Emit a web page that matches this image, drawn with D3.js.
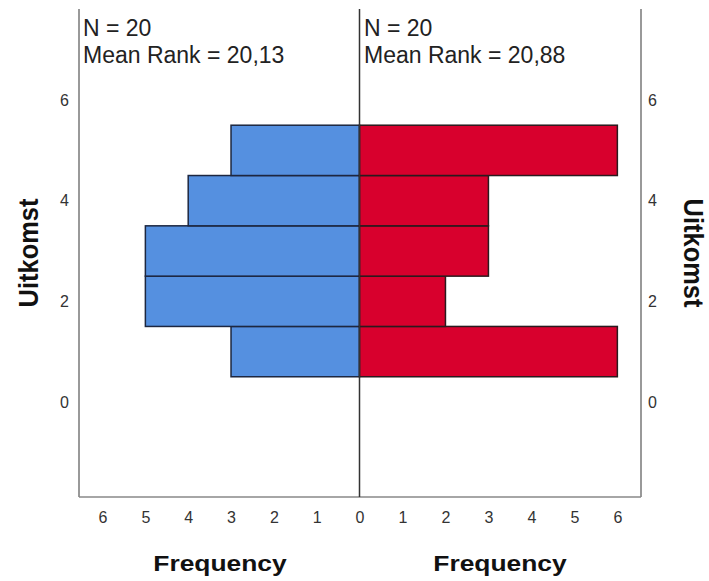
<!DOCTYPE html>
<html><head><meta charset="utf-8">
<script src="https://cdn.jsdelivr.net/npm/d3@7"></script>
<style>html,body{margin:0;padding:0;background:#fff;}svg{display:block;}</style>
</head><body>
<svg id="chart" width="709" height="581"></svg>
<script>
const categories = [1, 2, 3, 4, 5];
const leftCounts = [3, 5, 5, 4, 3];
const rightCounts = [6, 2, 3, 3, 6];
const yTicks = [0, 2, 4, 6];
const xTicks = [0, 1, 2, 3, 4, 5, 6];
const leftStats = ["N = 20", "Mean Rank = 20,13"];
const rightStats = ["N = 20", "Mean Rank = 20,88"];
const yTitle = "Uitkomst";
const xTitle = "Frequency";

const svg = d3.select("#chart");
const pTop = 9, pBottom = 497, pLeft = 79, pMid = 359.5, pRight = 641;
const font = "Arial, 'Liberation Sans', sans-serif";

const y = d3.scaleLinear().domain([-1.89, 7.81]).range([pBottom, pTop]);
const xR = d3.scaleLinear().domain([0, 6.55]).range([pMid, pRight]);
const xL = d3.scaleLinear().domain([0, 6.55]).range([pMid, pLeft]);

// bars
svg.append("g").selectAll("rect").data(categories).join("rect")
  .attr("x", (d, i) => xL(leftCounts[i]))
  .attr("y", d => y(d + 0.5))
  .attr("width", (d, i) => xL(0) - xL(leftCounts[i]))
  .attr("height", d => y(d - 0.5) - y(d + 0.5))
  .attr("fill", "#5590e0").attr("stroke", "#1d2740").attr("stroke-width", 1.5);
svg.append("g").selectAll("rect").data(categories).join("rect")
  .attr("x", xR(0))
  .attr("y", d => y(d + 0.5))
  .attr("width", (d, i) => xR(rightCounts[i]) - xR(0))
  .attr("height", d => y(d - 0.5) - y(d + 0.5))
  .attr("fill", "#d8002d").attr("stroke", "#2a1a1e").attr("stroke-width", 1.5);

// frame
svg.append("line").attr("x1", pLeft).attr("x2", pLeft).attr("y1", pTop).attr("y2", pBottom).attr("stroke", "#777").attr("stroke-width", 1.5);
svg.append("line").attr("x1", pRight).attr("x2", pRight).attr("y1", pTop).attr("y2", pBottom).attr("stroke", "#777").attr("stroke-width", 1.5);
svg.append("line").attr("x1", pLeft).attr("x2", pRight).attr("y1", pBottom).attr("y2", pBottom).attr("stroke", "#888").attr("stroke-width", 1.5);
svg.append("line").attr("x1", pMid).attr("x2", pMid).attr("y1", pTop).attr("y2", pBottom).attr("stroke", "#333").attr("stroke-width", 1.5);

// y axes
const ayL = d3.axisLeft(y).tickValues(yTicks).tickSize(0).tickPadding(10).tickFormat(d3.format("d"));
const gyL = svg.append("g").attr("transform", `translate(${pLeft},0)`).call(ayL);
const ayR = d3.axisRight(y).tickValues(yTicks).tickSize(0).tickPadding(7).tickFormat(d3.format("d"));
const gyR = svg.append("g").attr("transform", `translate(${pRight},0)`).call(ayR);

// x axes
const axL = d3.axisBottom(xL).tickValues(xTicks).tickSize(0).tickPadding(15).tickFormat(d3.format("d"));
const gxL = svg.append("g").attr("transform", `translate(0,${pBottom})`).call(axL);
const axR = d3.axisBottom(xR).tickValues(xTicks.slice(1)).tickSize(0).tickPadding(15).tickFormat(d3.format("d"));
const gxR = svg.append("g").attr("transform", `translate(0,${pBottom})`).call(axR);

[gyL, gyR, gxL, gxR].forEach(g => {
  g.select(".domain").remove();
  g.selectAll("text").attr("font-family", font).attr("font-size", 16).attr("fill", "#333");
});

// stats text
leftStats.forEach((t, i) => svg.append("text").attr("x", 83).attr("y", 36 + i * 27)
  .attr("font-family", font).attr("font-size", 23).attr("fill", "#222").text(t));
rightStats.forEach((t, i) => svg.append("text").attr("x", 364).attr("y", 36 + i * 27)
  .attr("font-family", font).attr("font-size", 23).attr("fill", "#222").text(t));

// titles
[220, 500].forEach(cx => svg.append("text")
  .attr("transform", `translate(${cx},571) scale(1.2,1)`)
  .attr("text-anchor", "middle").attr("font-family", font).attr("font-weight", "bold")
  .attr("font-size", 22).attr("fill", "#111").text(xTitle));
svg.append("text").attr("transform", "translate(38,253) scale(1.12,1) rotate(-90)")
  .attr("text-anchor", "middle").attr("font-family", font).attr("font-weight", "bold")
  .attr("font-size", 25.5).attr("fill", "#111").text(yTitle);
svg.append("text").attr("transform", "translate(684,253) scale(1.12,1) rotate(90)")
  .attr("text-anchor", "middle").attr("font-family", font).attr("font-weight", "bold")
  .attr("font-size", 25.5).attr("fill", "#111").text(yTitle);
</script>
</body></html>
